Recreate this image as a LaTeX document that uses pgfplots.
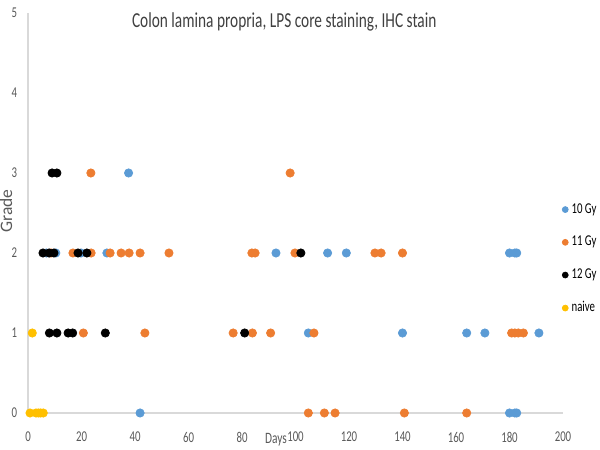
\documentclass[border=0pt]{standalone}
\usepackage{pgfplots}
\pgfplotsset{compat=1.18}
\usepackage{fontspec}
\setmainfont[FakeStretch=0.72]{Carlito}
\newfontfamily\gradefont{Carlito}

\definecolor{gyten}{HTML}{5B9BD5}
\definecolor{gyeleven}{HTML}{ED7D31}
\definecolor{naive}{HTML}{FFC000}
\definecolor{axisgrey}{HTML}{D9D9D9}
\definecolor{labelgrey}{HTML}{595959}

\begin{document}
\begin{tikzpicture}
\begin{axis}[
    scale only axis,
    width=321pt, height=240pt,
    xmin=0, xmax=200, ymin=0, ymax=5,
    xtick={0,20,...,200}, ytick={0,1,...,5},
    axis lines=left,
    axis line style={axisgrey, line width=0.8pt, -},
    major tick length=0pt,
    tick label style={labelgrey, font=\fontsize{9}{10.8}\selectfont,
        /pgf/number format/assume math mode=true},
    xticklabel style={yshift=-8pt},
    yticklabel style={xshift=-3pt},
    clip=false,
    xlabel={Days},
    xlabel style={at={(axis description cs:0.4636,-0.0675)}, anchor=center,
        font=\fontsize{9.5}{11}\selectfont, labelgrey},
    ylabel={Grade},
    ylabel style={at={(axis description cs:-0.041,0.505)}, anchor=center,
        rotate=0, font=\gradefont\fontsize{10.5}{12}\selectfont, labelgrey},
    legend style={draw=none, fill=none, at={(rel axis cs:0.998,0.533)},
        anchor=north west, font=\fontsize{9}{10.8}\selectfont,
        row sep=8.3pt, inner sep=0pt},
    legend cell align=left,
    legend image code/.code={\draw[#1, mark size=1.8pt] plot coordinates {(0.1cm,0cm)};},
    every axis plot/.append style={only marks, mark=*, mark size=2.5pt,
        mark options={xscale=0.85}},
]
\addplot[gyten, mark options={fill=gyten, draw=gyten}] coordinates {
    (37.6,3)
    (6.9,2) (10.4,2) (19.8,2) (29.5,2) (92.7,2) (112,2) (119,2) (180,2) (182,2) (182.7,2)
    (104.8,1) (140,1) (164,1) (170.8,1) (191,1)
    (41.9,0) (180,0) (182,0) (182.7,0)
};
\addlegendentry{10 Gy}
\addplot[gyeleven, mark options={fill=gyeleven, draw=gyeleven}] coordinates {
    (23.5,3) (98,3)
    (8.6,2) (16.8,2) (23.6,2) (30.7,2) (34.8,2) (37.8,2) (41.9,2) (52.7,2) (83.7,2) (84.9,2)
    (99.8,2) (129.7,2) (132,2) (140,2)
    (20.7,1) (43.7,1) (76.7,1) (83.9,1) (90.7,1) (106.9,1) (180.8,1) (182,1) (183.3,1) (185.2,1)
    (104.8,0) (110.8,0) (114.8,0) (140.7,0) (164,0)
};
\addlegendentry{11 Gy}
\addplot[black, mark options={fill=black, draw=black}] coordinates {
    (9,3) (10.8,3)
    (5.6,2) (7.9,2) (9.7,2) (18.7,2) (22,2) (102,2)
    (8,1) (10.8,1) (15,1) (16.7,1) (28.9,1) (81,1)
};
\addlegendentry{12 Gy}
\addplot[naive, mark options={fill=naive, draw=naive}] coordinates {
    (1.6,1)
    (0.75,0) (3,0) (3.9,0) (4.7,0) (5.7,0)
};
\addlegendentry{naive}
\node[anchor=base, text=black!75, font=\fontsize{12.8}{15}\selectfont]
    at (rel axis cs:0.479,0.964) {Colon lamina propria, LPS core staining, IHC stain};
\end{axis}
\pgfresetboundingbox
\path[use as bounding box] (-16.8pt,-22.2pt) rectangle (343.2pt,247.8pt);
\end{tikzpicture}
\end{document}
